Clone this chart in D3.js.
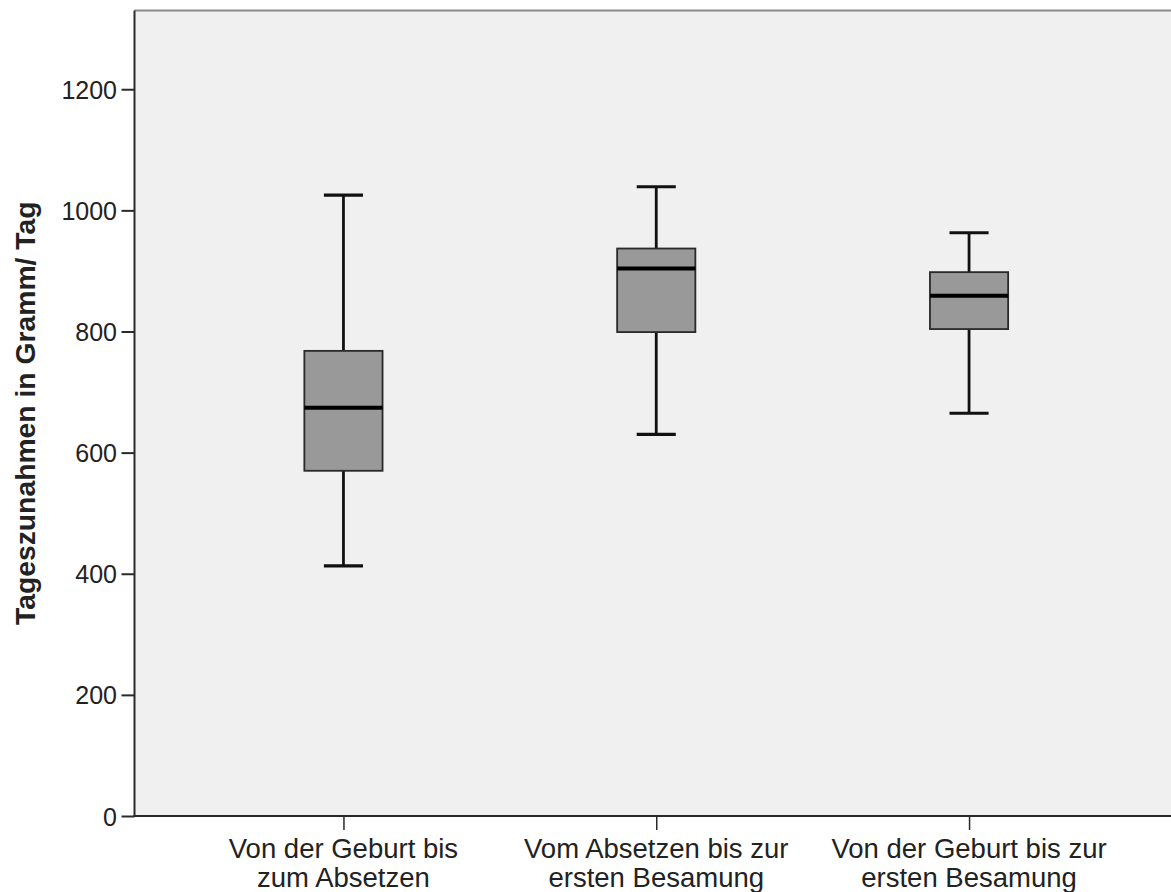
<!DOCTYPE html>
<html>
<head>
<meta charset="utf-8">
<script src="https://cdn.jsdelivr.net/npm/d3@7"></script>
<style>
  html, body { margin: 0; padding: 0; background: #ffffff; }
  svg { display: block; }
  text { font-family: "Liberation Sans", Arial, sans-serif; fill: #222; }
</style>
</head>
<body>
<svg id="chart" width="1171" height="892"></svg>
<script>
// Daily weight gain per period (grams/day): whisker ends, quartiles, median
const categories = [
  ["Von der Geburt bis", "zum Absetzen"],
  ["Vom Absetzen bis zur", "ersten Besamung"],
  ["Von der Geburt bis zur", "ersten Besamung"]
];
const whiskerLow  = [413, 630, 665];
const quartile1   = [570, 799, 804];
const medians     = [674, 904, 859];
const quartile3   = [768, 937, 898];
const whiskerHigh = [1025, 1039, 963];
const yTicks = [0, 200, 400, 600, 800, 1000, 1200];
const yTitle = "Tageszunahmen in Gramm/ Tag";

const svg = d3.select("#chart");
const plotLeft = 134.5, plotRight = 1178, plotTop = 10.5, plotBottom = 816;

const keys = categories.map((c, i) => "g" + i);
const x = d3.scalePoint().domain(keys).range([plotLeft, plotRight]).padding(0.668);
const y = d3.scaleLinear().domain([0, 1330]).range([plotBottom, plotTop]);

const boxW = x.step() * 0.25;
const capW = boxW / 2;

// plot background
svg.append("rect")
  .attr("x", plotLeft).attr("y", plotTop)
  .attr("width", plotRight - plotLeft).attr("height", plotBottom - plotTop)
  .attr("fill", "#f0f0f0");

// top frame line
svg.append("line")
  .attr("x1", plotLeft).attr("x2", plotRight)
  .attr("y1", plotTop).attr("y2", plotTop)
  .attr("stroke", "#8a8a8a").attr("stroke-width", 2);

// boxes
const data = keys.map((k, i) => ({
  k, lo: whiskerLow[i], q1: quartile1[i], med: medians[i], q3: quartile3[i], hi: whiskerHigh[i]
}));

const g = svg.append("g").selectAll("g").data(data).join("g");

// whisker stems
g.append("line")
  .attr("x1", d => x(d.k)).attr("x2", d => x(d.k))
  .attr("y1", d => y(d.hi)).attr("y2", d => y(d.q3))
  .attr("stroke", "#111").attr("stroke-width", 2.8);
g.append("line")
  .attr("x1", d => x(d.k)).attr("x2", d => x(d.k))
  .attr("y1", d => y(d.q1)).attr("y2", d => y(d.lo))
  .attr("stroke", "#111").attr("stroke-width", 2.8);

// whisker caps
["hi", "lo"].forEach(key => {
  g.append("line")
    .attr("x1", d => x(d.k) - capW / 2).attr("x2", d => x(d.k) + capW / 2)
    .attr("y1", d => y(d[key])).attr("y2", d => y(d[key]))
    .attr("stroke", "#111").attr("stroke-width", 3.2);
});

// interquartile box
g.append("rect")
  .attr("x", d => x(d.k) - boxW / 2)
  .attr("y", d => y(d.q3))
  .attr("width", boxW)
  .attr("height", d => y(d.q1) - y(d.q3))
  .attr("fill", "#999999")
  .attr("stroke", "#2a2a2a").attr("stroke-width", 1.8);

// median
g.append("line")
  .attr("x1", d => x(d.k) - boxW / 2).attr("x2", d => x(d.k) + boxW / 2)
  .attr("y1", d => y(d.med)).attr("y2", d => y(d.med))
  .attr("stroke", "#000").attr("stroke-width", 4);

// y axis
const yAxis = svg.append("g")
  .attr("transform", `translate(${plotLeft},0)`)
  .call(d3.axisLeft(y).tickValues(yTicks).tickSize(13).tickPadding(4.5).tickFormat(d3.format("d")));
yAxis.select(".domain").attr("stroke", "#2a2a2a").attr("stroke-width", 2)
  .attr("d", `M0,${plotTop}V${plotBottom + 1}`);
yAxis.selectAll(".tick line").attr("stroke", "#2a2a2a").attr("stroke-width", 2);
yAxis.selectAll(".tick text")
  .style("font-size", "25px").style("font-family", "'Liberation Sans', Arial, sans-serif")
  .attr("fill", "#222").attr("dy", "0.36em");

// x axis
const xAxis = svg.append("g")
  .attr("transform", `translate(0,${plotBottom})`)
  .call(d3.axisBottom(x).tickSize(14).tickFormat(() => ""));
xAxis.select(".domain").attr("stroke", "#2a2a2a").attr("stroke-width", 2)
  .attr("d", `M${plotLeft - 1},0H${plotRight}`);
xAxis.selectAll(".tick line").attr("stroke", "#2a2a2a").attr("stroke-width", 1.5);

// category labels, two lines each
const labels = svg.append("g").selectAll("text").data(keys).join("text")
  .attr("text-anchor", "middle")
  .style("font-size", "27.5px");
labels.each(function(k, i) {
  const t = d3.select(this);
  categories[i].forEach((line, j) => {
    t.append("tspan")
      .attr("x", x(k))
      .attr("y", 857.5 + j * 29)
      .text(line);
  });
});

// y axis title
svg.append("text")
  .attr("transform", `translate(35,${(plotTop + plotBottom) / 2}) rotate(-90)`)
  .attr("text-anchor", "middle")
  .style("font-size", "28.3px")
  .style("font-weight", "bold")
  .text(yTitle);
</script>
</body>
</html>
